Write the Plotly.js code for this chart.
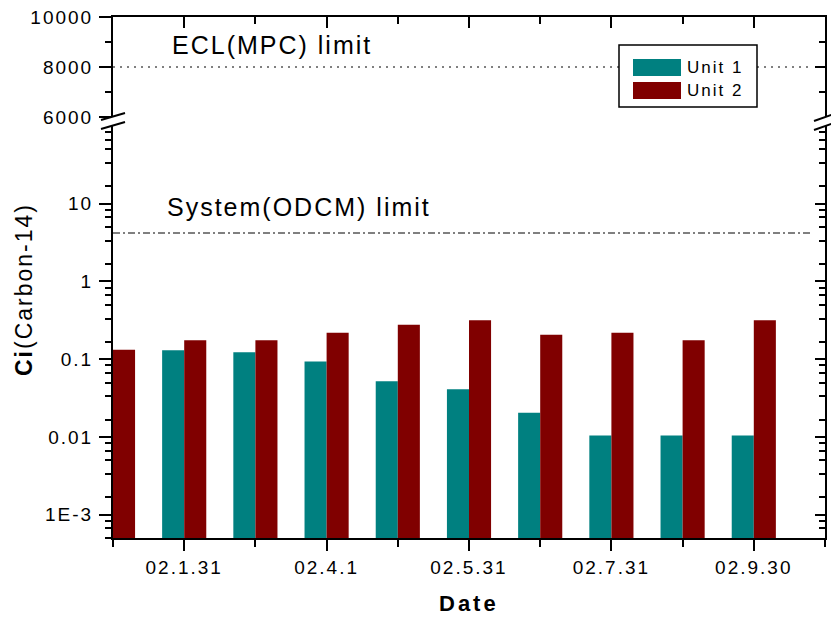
<!DOCTYPE html>
<html>
<head>
<meta charset="utf-8">
<script src="https://cdn.plot.ly/plotly-3.0.1.min.js"></script>
<style>
  html, body { margin: 0; padding: 0; background: #fff; }
  #chart { width: 831px; height: 618px; }
  .main-svg text { letter-spacing: 2px; }
</style>
</head>
<body>
<div id="chart"></div>
<script>
// ---- data ----
const seriesNames = ['Unit 1', 'Unit 2'];
const groupPos = [0, 1, 2, 3, 4, 5, 6, 7, 8, 9];
const unit1 = [null, 0.13, 0.123, 0.093, 0.052, 0.041, 0.0205, 0.0104, 0.0104, 0.0104];
const unit2 = [0.132, 0.175, 0.175, 0.218, 0.277, 0.317, 0.206, 0.218, 0.175, 0.317];
const dateTickPos = [1, 3, 5, 7, 9];
const dateTickLabels = ['02.1.31', '02.4.1', '02.5.31', '02.7.31', '02.9.30'];
const logTickVals = [0.001, 0.01, 0.1, 1, 10];
const logTickLabels = ['1E-3', '0.01', '0.1', '1', '10'];
const linTickVals = [6000, 8000, 10000];
const linTickLabels = ['6000', '8000', '10000'];
const eclLimit = 8000;
const odcmLimit = 4.2;
const limitLabels = ['ECL(MPC) limit', 'System(ODCM) limit'];

// ---- style helpers ----
const FONT = 'Liberation Sans, Arial, Helvetica, sans-serif';
const colors = ['#008080', '#800000'];
const L = 113, R = 825, T = 17, B = 538;
const px = x => (x - L) / (R - L);
const py = y => (B - y) / (B - T);
const xRange = [0, 10];
const lineSpan = [0, px(813) * 10];
const logRange = [Math.log10(5e-4), 2];
const linRange = [6000, 10000];
const lowDomain = [0, py(126)];
const upDomain = [py(117), 1];

const minorLog = [];
for (let e = -4; e <= 1; e++) {
  for (let k = 1; k <= 5; k++) minorLog.push(k / 6 * Math.pow(10, e + 1));
}
const minorX = [0, 2, 4, 6, 8, 10];

const tickFont = { family: FONT, size: 19, color: '#000' };

const traces = [
  { type: 'bar', name: seriesNames[0], x: groupPos, y: unit1, xaxis: 'x', yaxis: 'y',
    marker: { color: colors[0], line: { width: 0 } }, showlegend: false, hoverinfo: 'x+y' },
  { type: 'bar', name: seriesNames[1], x: groupPos, y: unit2, xaxis: 'x', yaxis: 'y',
    marker: { color: colors[1], line: { width: 0 } }, showlegend: false, hoverinfo: 'x+y' },
  { type: 'scatter', mode: 'lines', x: lineSpan, y: [odcmLimit, odcmLimit], xaxis: 'x', yaxis: 'y',
    line: { color: '#000', width: 1, dash: '7px,3px,2px,3px' }, showlegend: false, hoverinfo: 'skip' },
  { type: 'scatter', mode: 'lines', x: lineSpan, y: [eclLimit, eclLimit], xaxis: 'x2', yaxis: 'y2',
    line: { color: '#000', width: 1, dash: '2px,5px' }, showlegend: false, hoverinfo: 'skip' },
  { type: 'scatter', mode: 'lines', x: [null], y: [null], xaxis: 'x', yaxis: 'y3', showlegend: false, hoverinfo: 'skip' },
  { type: 'scatter', mode: 'lines', x: [null], y: [null], xaxis: 'x2', yaxis: 'y4', showlegend: false, hoverinfo: 'skip' }
];

const axisLine = { showline: true, linecolor: '#000', linewidth: 2, showgrid: false, zeroline: false, tickcolor: '#000', tickwidth: 2 };

const layout = {
  width: 831, height: 618,
  margin: { l: L, r: 831 - R, t: T, b: 618 - B, pad: 0 },
  paper_bgcolor: '#fff', plot_bgcolor: '#fff',
  barmode: 'group', bargap: 0.38, bargroupgap: 0,
  showlegend: false,
  font: { family: FONT, color: '#000' },
  xaxis: Object.assign({}, axisLine, {
    domain: [0, 1], anchor: 'y', range: xRange, tickmode: 'array',
    tickvals: dateTickPos, ticktext: dateTickLabels, ticks: 'outside', ticklen: 11,
    tickfont: tickFont,
    minor: { tickmode: 'array', tickvals: minorX, ticks: 'outside', ticklen: 7, tickwidth: 2, tickcolor: '#000' }
  }),
  xaxis2: Object.assign({}, axisLine, {
    domain: [0, 1], anchor: 'y2', side: 'top', range: xRange, tickmode: 'array',
    tickvals: dateTickPos, ticks: 'inside', ticklen: 11, showticklabels: false,
    minor: { tickmode: 'array', tickvals: minorX, ticks: 'inside', ticklen: 7, tickwidth: 2, tickcolor: '#000' }
  }),
  yaxis: Object.assign({}, axisLine, {
    domain: lowDomain, anchor: 'x', type: 'log', range: logRange, tickmode: 'array',
    tickvals: logTickVals, ticktext: logTickLabels, ticks: 'outside', ticklen: 12,
    tickfont: tickFont, ticklabelstandoff: 2,
    minor: { tickmode: 'array', tickvals: minorLog, ticks: 'outside', ticklen: 6, tickwidth: 2, tickcolor: '#000' }
  }),
  yaxis2: Object.assign({}, axisLine, {
    domain: upDomain, anchor: 'x2', range: linRange, tickmode: 'array',
    tickvals: linTickVals, ticktext: linTickLabels, ticks: 'outside', ticklen: 12,
    tickfont: tickFont, ticklabelstandoff: 2,
    minor: { tickmode: 'array', tickvals: [7000, 9000], ticks: 'outside', ticklen: 6, tickwidth: 2, tickcolor: '#000' }
  }),
  yaxis3: Object.assign({}, axisLine, {
    overlaying: 'y', anchor: 'x', side: 'right', type: 'log', range: logRange, tickmode: 'array',
    tickvals: logTickVals, ticks: 'inside', ticklen: 10, showticklabels: false,
    minor: { tickmode: 'array', tickvals: minorLog, ticks: 'inside', ticklen: 6, tickwidth: 2, tickcolor: '#000' }
  }),
  yaxis4: Object.assign({}, axisLine, {
    overlaying: 'y2', anchor: 'x2', side: 'right', range: linRange, tickmode: 'array',
    tickvals: linTickVals, ticks: 'inside', ticklen: 10, showticklabels: false,
    minor: { tickmode: 'array', tickvals: [7000, 9000], ticks: 'inside', ticklen: 6, tickwidth: 2, tickcolor: '#000' }
  }),
  shapes: [
    // axis break marks
    { type: 'line', xref: 'paper', yref: 'paper', x0: px(101), y0: py(120), x1: px(125), y1: py(113), line: { color: '#000', width: 2 } },
    { type: 'line', xref: 'paper', yref: 'paper', x0: px(101), y0: py(129), x1: px(125), y1: py(122), line: { color: '#000', width: 2 } },
    { type: 'line', xref: 'paper', yref: 'paper', x0: px(814), y0: py(121), x1: px(834), y1: py(114), line: { color: '#000', width: 2 } },
    { type: 'line', xref: 'paper', yref: 'paper', x0: px(814), y0: py(130), x1: px(834), y1: py(123), line: { color: '#000', width: 2 } },
    // legend box and swatches
    { type: 'rect', xref: 'paper', yref: 'paper', x0: px(619), y0: py(107), x1: px(757), y1: py(45), line: { color: '#000', width: 1.5 }, fillcolor: '#fff' },
    { type: 'rect', xref: 'paper', yref: 'paper', x0: px(633), y0: py(76), x1: px(681), y1: py(59), line: { width: 0 }, fillcolor: colors[0] },
    { type: 'rect', xref: 'paper', yref: 'paper', x0: px(633), y0: py(99), x1: px(681), y1: py(82), line: { width: 0 }, fillcolor: colors[1] }
  ],
  annotations: [
    { xref: 'paper', yref: 'paper', x: px(272), y: py(45), text: limitLabels[0], showarrow: false,
      xanchor: 'center', yanchor: 'middle', font: { family: FONT, size: 25, color: '#000' } },
    { xref: 'paper', yref: 'paper', x: px(299), y: py(207), text: limitLabels[1], showarrow: false,
      xanchor: 'center', yanchor: 'middle', font: { family: FONT, size: 25, color: '#000' } },
    { xref: 'paper', yref: 'paper', x: px(715), y: py(67.5), text: seriesNames[0], showarrow: false,
      xanchor: 'center', yanchor: 'middle', font: { family: FONT, size: 17, color: '#000' } },
    { xref: 'paper', yref: 'paper', x: px(715), y: py(90.5), text: seriesNames[1], showarrow: false,
      xanchor: 'center', yanchor: 'middle', font: { family: FONT, size: 17, color: '#000' } },
    { xref: 'paper', yref: 'paper', x: px(24), y: py(290), textangle: -90,
      text: '<b>Ci</b>(Carbon-14)', showarrow: false, xanchor: 'center', yanchor: 'middle',
      font: { family: FONT, size: 23, color: '#000' } },
    { xref: 'paper', yref: 'paper', x: px(469), y: py(603),
      text: '<b><span style="letter-spacing:3px">Date</span></b>', showarrow: false, xanchor: 'center', yanchor: 'middle',
      font: { family: FONT, size: 22, color: '#000' } }
  ]
};

Plotly.newPlot('chart', traces, layout, { displayModeBar: false, staticPlot: true });
</script>
</body>
</html>
